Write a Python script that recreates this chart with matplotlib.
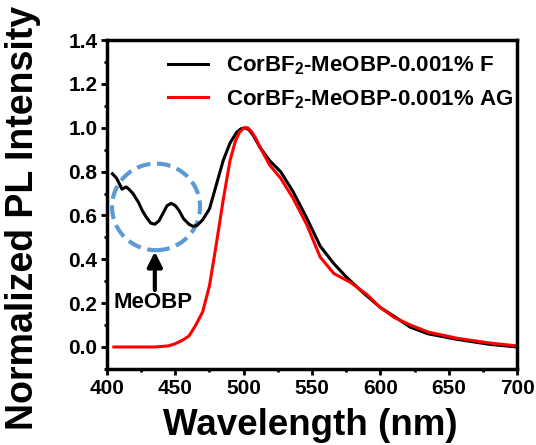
import matplotlib
matplotlib.use('Agg')
import matplotlib.pyplot as plt
from matplotlib.patches import Ellipse
from matplotlib.ticker import MultipleLocator

plt.rcParams['font.family'] = ['Liberation Sans', 'DejaVu Sans']
plt.rcParams['font.weight'] = 'bold'
plt.rcParams['mathtext.fontset'] = 'custom'
plt.rcParams['mathtext.bf'] = 'Liberation Sans:bold'
plt.rcParams['mathtext.rm'] = 'Liberation Sans:bold'

# CorBF2-MeOBP-0.001% F (black)
wl_f = [404, 407, 411, 414, 416, 419, 423, 426, 429, 432, 435, 438, 441, 444,
        447, 450, 453, 456, 460, 463, 466, 470, 475, 480, 485, 490, 495, 498,
        501, 504, 507, 512, 519, 527, 536, 546, 556, 566, 575, 587, 600, 610,
        622, 635, 656, 680, 700]
int_f = [0.79, 0.77, 0.72, 0.73, 0.72, 0.70, 0.66, 0.62, 0.59, 0.565, 0.56,
         0.575, 0.61, 0.645, 0.655, 0.645, 0.62, 0.585, 0.56, 0.55, 0.555,
         0.58, 0.63, 0.74, 0.85, 0.93, 0.98, 0.995, 1.0, 0.99, 0.965, 0.91,
         0.85, 0.80, 0.71, 0.59, 0.46, 0.38, 0.32, 0.25, 0.18, 0.14, 0.09,
         0.06, 0.035, 0.012, 0.0]

# CorBF2-MeOBP-0.001% AG (red)
wl_ag = [405, 420, 435, 445, 450, 455, 460, 465, 470, 475, 480, 485, 490, 494,
         497, 500, 503, 506, 509, 512, 519, 527, 536, 546, 556, 566, 578, 590,
         600, 610, 622, 635, 656, 680, 700]
int_ag = [0.0, 0.0, 0.0, 0.005, 0.015, 0.03, 0.05, 0.10, 0.16, 0.28, 0.47,
          0.67, 0.85, 0.94, 0.98, 0.997, 1.0, 0.98, 0.95, 0.91, 0.83, 0.77,
          0.68, 0.56, 0.41, 0.335, 0.295, 0.24, 0.18, 0.135, 0.10, 0.068,
          0.04, 0.018, 0.005]

labels = ['CorBF$_\\mathbf{2}$-MeOBP-0.001% F',
          'CorBF$_\\mathbf{2}$-MeOBP-0.001% AG']

fig = plt.figure(figsize=(5.36, 4.45), dpi=100)
ax = fig.add_axes([0.1996, 0.171, 0.765, 0.739])

ax.plot(wl_f, int_f, color='black', lw=2.2, label=labels[0],
        solid_joinstyle='round')
ax.plot(wl_ag, int_ag, color='#ff0000', lw=2.2, label=labels[1],
        solid_joinstyle='round')

# dashed circle marking the MeOBP emission
circ = Ellipse((435.9, 0.639), 64.4, 0.395, fill=False, edgecolor='#5b9bd5',
               lw=3, linestyle=(0, (3.3, 1.6)))
ax.add_patch(circ)
ax.annotate('', xy=(435, 0.435), xytext=(435, 0.26),
            arrowprops=dict(arrowstyle='-|>', lw=3, color='black',
                            mutation_scale=22, shrinkA=0, shrinkB=0))
ax.text(433.5, 0.205, 'MeOBP', ha='center', va='center', fontsize=16,
        fontweight='bold')

ax.set_xlim(400, 700)
ax.set_ylim(-0.1, 1.4)
ax.xaxis.set_major_locator(MultipleLocator(50))
ax.xaxis.set_minor_locator(MultipleLocator(25))
ax.yaxis.set_minor_locator(MultipleLocator(0.1))
ax.set_yticks([0, 0.2, 0.4, 0.6, 0.8, 1.0, 1.2, 1.4])
ax.set_yticklabels(['0.0', '0.2', '0.4', '0.6', '0.8', '1.0', '1.2', '1.4'])

for s in ax.spines.values():
    s.set_linewidth(2.5)
ax.tick_params(which='major', length=4, width=2, labelsize=15, pad=3)
ax.tick_params(which='minor', length=2.5, width=2)

ax.set_xlabel('Wavelength (nm)', fontsize=26.5, fontweight='bold')
ax.set_ylabel('Normalized PL Intensity', fontsize=27, fontweight='bold')
ax.xaxis.set_label_coords(0.495, -0.12)
ax.yaxis.set_label_coords(-0.16, 0.46)

ax.legend(loc='upper left', bbox_to_anchor=(0.149, 0.956), frameon=False,
          fontsize=16, handlelength=1.8, handletextpad=0.8, borderpad=0,
          borderaxespad=0, labelspacing=0.5)

fig.savefig('out.png', dpi=100)
